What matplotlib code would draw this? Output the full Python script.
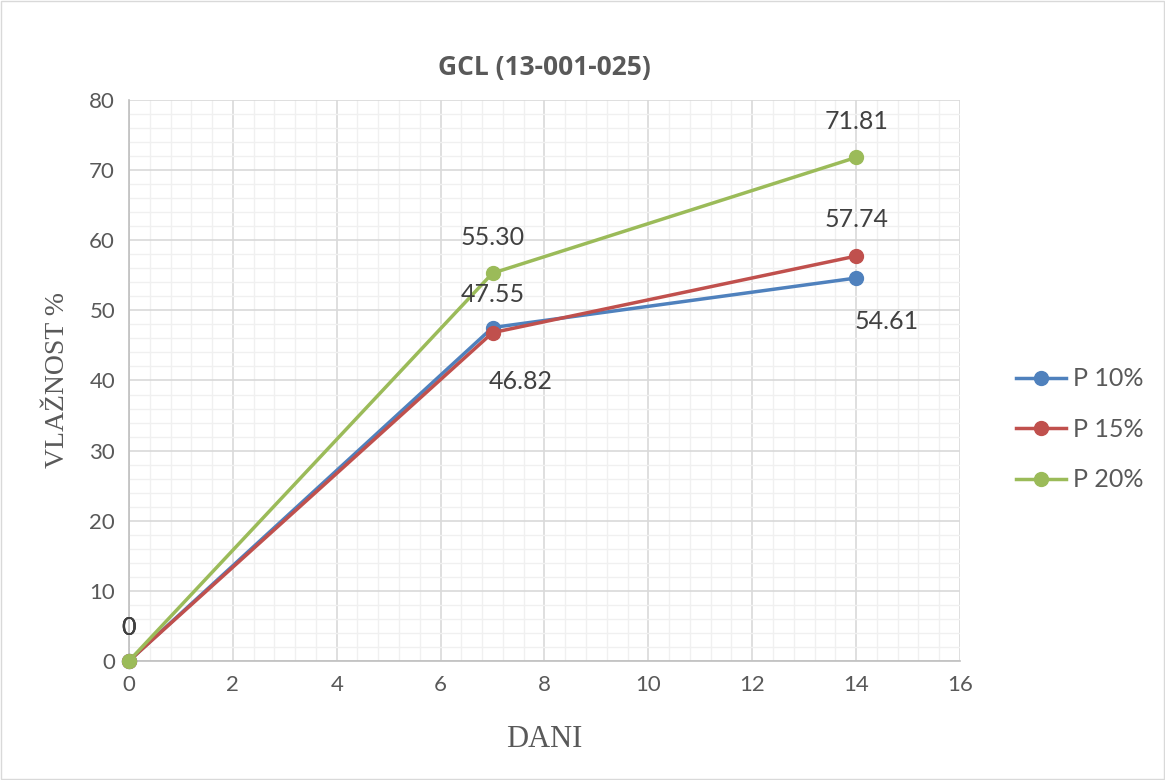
import matplotlib.pyplot as plt
from matplotlib.ticker import MultipleLocator

days = [0, 7, 14]
p10 = [0, 47.55, 54.61]
p15 = [0, 46.82, 57.74]
p20 = [0, 55.30, 71.81]
series_names = ["P 10%", "P 15%", "P 20%"]
colors = ["#4F81BD", "#C0504D", "#9BBB59"]

# label offsets (points) for each series point: (dx, dy)
label_offsets = [
    [(0, 24), (0, 24), (22, -31)],
    [(0, 24), (20, -35), (0, 26)],
    [(0, 24), (0, 26), (0, 26)],
]

plt.rcParams['font.family'] = ['Lato', 'DejaVu Sans']
text_gray = "#595959"

fig = plt.figure(figsize=(11.65, 7.8), dpi=100)
fig.patches.append(plt.Rectangle((0.001, 0.001), 0.998, 0.998, transform=fig.transFigure,
                                 fill=False, edgecolor="#D9D9D9", linewidth=1))
ax = fig.add_axes([0.1107, 0.1526, 0.7133, 0.7192])

for vals, name, c, offs in zip([p10, p15, p20], series_names, colors, label_offsets):
    ax.plot(days, vals, color=c, linewidth=2.5, marker='o', markersize=10, label=name,
            zorder=3, clip_on=False)
    for x, y, (dx, dy) in zip(days, vals, offs):
        txt = "0" if y == 0 else f"{y:.2f}"
        ax.annotate(txt, (x, y), xytext=(dx, dy), textcoords='offset points',
                    ha='center', va='center', fontsize=18, color="#404040", zorder=4)

ax.set_xlim(0, 16)
ax.set_ylim(0, 80)
ax.xaxis.set_major_locator(MultipleLocator(2))
ax.xaxis.set_minor_locator(MultipleLocator(0.4))
ax.yaxis.set_major_locator(MultipleLocator(10))
ax.yaxis.set_minor_locator(MultipleLocator(2))
ax.grid(which='major', color="#D9D9D9", linewidth=1.2)
ax.grid(which='minor', color="#F0F0F0", linewidth=1)
ax.set_axisbelow(True)
for s in ['top', 'right']:
    ax.spines[s].set_visible(False)
for s in ['left', 'bottom']:
    ax.spines[s].set_color("#BFBFBF")
    ax.spines[s].set_linewidth(1.2)
ax.tick_params(which='both', length=0, labelsize=16, labelcolor=text_gray, pad=10)

ax.set_title("GCL (13-001-025)", family=['Open Sans', 'DejaVu Sans'], fontsize=19,
             fontweight='bold', color=text_gray, pad=18)
ax.set_xlabel("DANI", family='Liberation Serif', fontsize=22, color=text_gray, labelpad=22)
ax.set_ylabel("VLAŽNOST %", family='Liberation Serif', fontsize=20, color=text_gray, labelpad=14)

leg = ax.legend(loc='center left', bbox_to_anchor=(1.04, 0.413), frameon=False, fontsize=18,
                labelcolor=text_gray, handlelength=2.0, labelspacing=1.1, handletextpad=0.3)

fig.savefig("out.png", dpi=100)
